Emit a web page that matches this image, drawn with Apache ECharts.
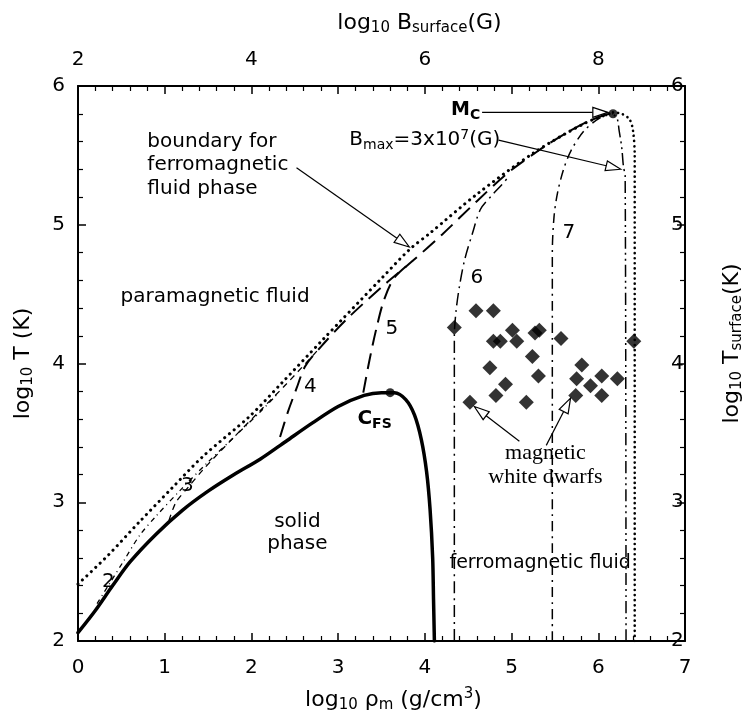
<!DOCTYPE html>
<html><head><meta charset="utf-8">
<script src="https://cdn.jsdelivr.net/npm/echarts@6/dist/echarts.min.js"></script>
<style>html,body{margin:0;padding:0;background:#fff}#c{width:753px;height:718px}</style>
</head><body><div id="c"></div>
<script>
// ---- data (log10 rho_m, log10 T) ----
const solidRho = [0,0.2,0.4,0.6,0.9,1.2,1.5,1.8,2.1,2.4,2.7,3.0,3.3,3.5,3.65,3.78,3.88,3.96,4.02,4.06,4.09,4.10,4.11];
const solidT   = [2.06,2.22,2.40,2.57,2.77,2.94,3.08,3.20,3.31,3.44,3.57,3.69,3.77,3.79,3.79,3.74,3.63,3.45,3.22,2.95,2.60,2.30,2.00];
const boundRho = [0,0.35,0.71,1.08,1.44,1.98,2.35,2.82,3.51,3.82,4.06,4.60,5.26,5.84,6.17];
const boundT   = [2.41,2.62,2.86,3.10,3.33,3.62,3.86,4.17,4.62,4.82,4.94,5.22,5.52,5.73,5.81];
const edgeRho  = [6.17,6.27,6.36,6.40,6.42,6.42];
const edgeT    = [5.81,5.80,5.76,5.68,5.50,2.00];
const c2Rho = [0.22,0.35,0.53,0.71,0.90,1.20,1.50,1.80,2.10,2.30];
const c2T   = [2.27,2.40,2.58,2.76,2.90,3.10,3.29,3.47,3.65,3.78];
const c3Rho = [1.05,1.13,1.26,1.45,1.80,2.10,2.40,2.80];
const c3T   = [2.87,3.00,3.10,3.24,3.47,3.66,3.85,4.12];
const c4Rho = [2.33,2.42,2.52,2.62,2.80,3.10,3.50,3.86,4.20,4.60,4.95,5.30,5.60,5.90,6.17];
const c4T   = [3.47,3.65,3.82,3.98,4.12,4.32,4.55,4.74,4.93,5.17,5.37,5.53,5.65,5.75,5.81];
const c5Rho = [3.29,3.36,3.44,3.53,3.65,3.86];
const c5T   = [3.79,4.02,4.25,4.46,4.62,4.74];
const c6Rho = [4.34,4.34,4.36,4.40,4.46,4.55,4.64,4.77,4.89,4.97];
const c6T   = [2.00,4.20,4.38,4.56,4.75,4.94,5.11,5.21,5.29,5.35];
const c7Rho = [5.47,5.47,5.49,5.53,5.60,5.69,5.84,6.02,6.17];
const c7T   = [2.00,4.80,5.06,5.23,5.40,5.54,5.68,5.77,5.80];
const c8Rho = [6.32,6.31,6.29,6.27,6.24,6.22,6.17];
const c8T   = [2.00,5.35,5.42,5.56,5.68,5.76,5.80];
const wdRho = [4.34,4.59,4.79,4.79,4.87,5.01,5.06,5.27,5.32,5.57,5.24,4.75,5.31,4.93,4.82,4.52,5.17,5.81,5.75,5.74,5.91,6.04,6.04,6.22,6.41];
const wdT   = [4.26,4.38,4.38,4.16,4.16,4.24,4.16,4.22,4.24,4.18,4.05,3.97,3.91,3.85,3.77,3.72,3.72,3.99,3.89,3.77,3.84,3.91,3.77,3.89,4.16];
const critRho = [6.17,3.60];
const critT   = [5.80,3.79];
const xTicks = [0,1,2,3,4,5,6,7];
const yTicks = [2,3,4,5,6];
const topTicks = [2,4,6,8];

// ---- annotations ----
const F = "'DejaVu Sans', 'Liberation Sans', Arial, sans-serif";
const FS = "'Liberation Serif', 'Times New Roman', serif";
const texts = [
  {t:'boundary for', x:0.80, y:5.60, al:'left'},
  {t:'ferromagnetic', x:0.80, y:5.43, al:'left'},
  {t:'fluid phase', x:0.80, y:5.26, al:'left'},
  {t:'paramagnetic fluid', x:0.49, y:4.48, al:'left'},
  {t:'{b|M}{bs|C}', x:4.47, y:5.83},
  {t:'{n|B}{s|max}{n|=3x10}{p|7}{n|(G)}', x:4.0, y:5.61},
  {t:'{c|C}{bs|FS}', x:3.42, y:3.60},
  {t:'solid', x:2.53, y:2.86},
  {t:'phase', x:2.53, y:2.70},
  {t:'magnetic', x:5.39, y:3.35, serif:true},
  {t:'white dwarfs', x:5.39, y:3.18, serif:true},
  {t:'ferromagnetic fluid', x:5.33, y:2.56, fs:19},
  {t:'2', x:0.35, y:2.43},
  {t:'3', x:1.26, y:3.12},
  {t:'4', x:2.68, y:3.83},
  {t:'5', x:3.62, y:4.25},
  {t:'6', x:4.60, y:4.62},
  {t:'7', x:5.66, y:4.94}
];
const arrows = [
  [2.52,5.41,3.82,4.84],
  [4.66,5.81,6.11,5.81],
  [4.85,5.61,6.26,5.40],
  [5.09,3.44,4.57,3.69],
  [5.40,3.41,5.68,3.75]
];

const rich = {
  sub:{fontSize:15, fontFamily:F, padding:[11,0,0,0]},
  sup:{fontSize:15, fontFamily:F, padding:[0,0,11,0]},
  b:{fontSize:19, fontWeight:'bold', fontFamily:F},
  c:{fontSize:20, fontWeight:'bold', fontFamily:F},
  bs:{fontSize:14, fontWeight:'bold', fontFamily:F, padding:[11,0,0,0]},
  n:{fontSize:20, fontFamily:F},
  s:{fontSize:14, fontFamily:F, padding:[10,0,0,0]},
  p:{fontSize:14, fontFamily:F, padding:[0,0,10,0]}
};

const zip = (a,b)=>a.map((v,i)=>[v,b[i]]);
function lineSeries(rho,T,type,width,cap){
  return {type:'line', data:zip(rho,T), showSymbol:false, symbol:'none', smooth:0.3, silent:true,
    lineStyle:{color:'#000', width:width, type:type, cap:cap||'butt'}, z:3};
}

const chart = echarts.init(document.getElementById('c'), null, {renderer:'canvas'});
const axisCommon = {
  type:'value', interval:1,
  axisLine:{show:true, lineStyle:{color:'#000', width:2}},
  axisTick:{show:true, inside:true, length:8, lineStyle:{color:'#000', width:1.5}},
  minorTick:{show:true, splitNumber:5, length:5, lineStyle:{color:'#000', width:1.2}},
  splitLine:{show:false},
  axisLabel:{color:'#000', fontSize:20, fontFamily:F},
  nameTextStyle:{color:'#000', fontSize:22, fontFamily:F, rich:rich}
};
chart.setOption({
  animation:false,
  backgroundColor:'#fff',
  grid:{left:78, right:33, top:86, bottom:75, containLabel:false},
  xAxis:[
    Object.assign({}, axisCommon, {min:0, max:7, position:'bottom',
      name:'log{sub|10} ρ{sub|m} (g/cm{sup|3})', nameLocation:'middle', nameGap:46,
      nameTextStyle:Object.assign({}, axisCommon.nameTextStyle, {padding:[0,0,0,24]}),
      axisLabel:Object.assign({}, axisCommon.axisLabel, {margin:17, formatter:v=>xTicks.includes(v)?String(v):''})}),
    Object.assign({}, axisCommon, {min:2, max:9, position:'top',
      name:'log{sub|10} B{sub|surface}(G)', nameLocation:'middle', nameGap:50,
      nameTextStyle:Object.assign({}, axisCommon.nameTextStyle, {padding:[0,0,0,76]}),
      axisLabel:Object.assign({}, axisCommon.axisLabel, {margin:16, formatter:v=>topTicks.includes(v)?String(v):''})})
  ],
  yAxis:[
    Object.assign({}, axisCommon, {min:2, max:6, position:'left',
      name:'log{sub|10} T (K)', nameLocation:'middle', nameGap:42, nameRotate:90,
      axisLabel:Object.assign({}, axisCommon.axisLabel, {margin:13, formatter:v=>yTicks.includes(v)?String(v):''})}),
    Object.assign({}, axisCommon, {min:2, max:6, position:'right',
      name:'log{sub|10} T{sub|surface}(K)', nameLocation:'middle', nameGap:34, nameRotate:90,
      nameTextStyle:Object.assign({}, axisCommon.nameTextStyle, {padding:[0,0,0,40]}),
      axisLabel:Object.assign({}, axisCommon.axisLabel, {margin:-14, formatter:v=>yTicks.includes(v)?String(v):''})})
  ],
  series:[
    lineSeries(solidRho, solidT, 'solid', 3.5, 'round'),
    lineSeries(boundRho, boundT, [0.1,6], 3, 'round'),
    lineSeries(edgeRho, edgeT, [0.1,5], 2.6, 'round'),
    lineSeries(c2Rho, c2T, [5,4,1,4], 1.3),
    lineSeries(c3Rho, c3T, [6,5], 1.3),
    lineSeries(c4Rho, c4T, [16,8], 2),
    lineSeries(c5Rho, c5T, [16,8], 2),
    lineSeries(c6Rho, c6T, [12,5,2,5], 1.5),
    lineSeries(c7Rho, c7T, [10,5,2,5], 1.5),
    lineSeries(c8Rho, c8T, [12,4,2,4,2,4], 1.5),
    {type:'scatter', data:zip(wdRho, wdT), symbol:'diamond', symbolSize:15,
      itemStyle:{color:'#000'}, silent:true, z:5},
    {type:'scatter', data:zip(critRho, critT), symbol:'circle', symbolSize:9,
      itemStyle:{color:'#000'}, silent:true, z:6},
    {type:'custom', silent:true, z:7, clip:false,
      data:arrows, encode:{x:[0,2], y:[1,3]},
      renderItem:function(params, api){
        const p1 = api.coord([api.value(0), api.value(1)]);
        const p2 = api.coord([api.value(2), api.value(3)]);
        const dx = p2[0]-p1[0], dy = p2[1]-p1[1];
        const L = Math.sqrt(dx*dx+dy*dy), ux = dx/L, uy = dy/L;
        const hl = 15, hw = 5;
        const bx = p2[0]-ux*hl, by = p2[1]-uy*hl;
        return {type:'group', children:[
          {type:'line', shape:{x1:p1[0], y1:p1[1], x2:bx, y2:by}, style:{stroke:'#000', lineWidth:1.2}},
          {type:'polygon', shape:{points:[[p2[0],p2[1]],[bx-uy*hw, by+ux*hw],[bx+uy*hw, by-ux*hw]]},
            style:{fill:'#fff', stroke:'#000', lineWidth:1.2}}
        ]};
      }},
    {type:'custom', silent:true, z:8, clip:false,
      data:texts.map(a=>[a.x, a.y]), encode:{x:0, y:1},
      renderItem:function(params, api){
        const a = texts[params.dataIndex];
        const p = api.coord([api.value(0), api.value(1)]);
        return {type:'text', x:p[0], y:p[1], style:{
          text:a.t, fontSize:a.fs||(a.serif?22:20), fontFamily:a.serif?FS:F, fill:'#000',
          align:a.al||'center', verticalAlign:'middle', rich:rich}};
      }}
  ]
});
</script></body></html>
